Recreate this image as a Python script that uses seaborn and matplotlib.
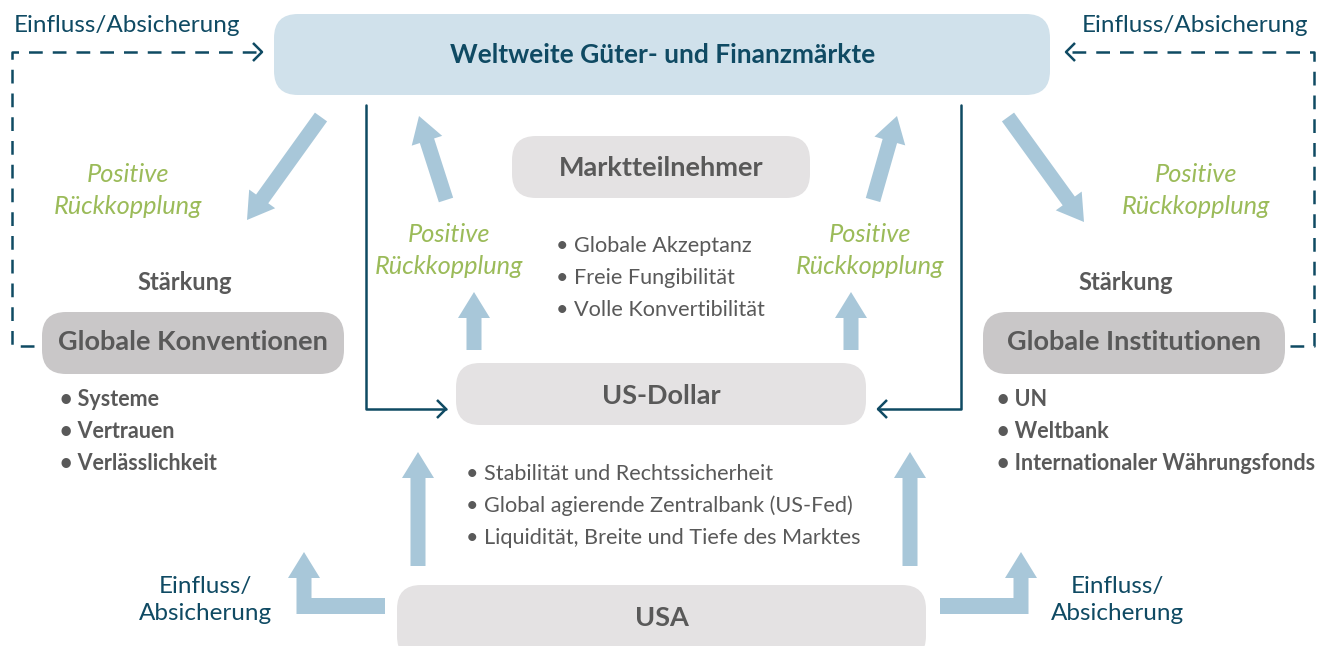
import matplotlib.pyplot as plt
import seaborn as sns
from matplotlib.patches import FancyBboxPatch, FancyArrow, Rectangle

# Texte des Diagramms
title_box = "Weltweite Güter- und Finanzmärkte"
center_boxes = ["Marktteilnehmer", "US-Dollar", "USA"]
side_boxes = ["Globale Konventionen", "Globale Institutionen"]
side_header = "Stärkung"
feedback_label = ["Positive", "Rückkopplung"]
influence_top = "Einfluss/Absicherung"
influence_bottom = ["Einfluss/", "Absicherung"]
left_bullets = ["Systeme", "Vertrauen", "Verlässlichkeit"]
right_bullets = ["UN", "Weltbank", "Internationaler Währungsfonds"]
dollar_bullets = ["Globale Akzeptanz", "Freie Fungibilität", "Volle Konvertibilität"]
usa_bullets = ["Stabilität und Rechtssicherheit",
               "Global agierende Zentralbank (US-Fed)",
               "Liquidität, Breite und Tiefe des Marktes"]

# Farben
BLUE_BOX = "#D0E1EB"
DARK = "#0F4A63"
ARROW = "#A8C7D9"
GREEN = "#9BBB59"
GREY_TXT = "#595959"
GREY_LIGHT = "#E4E2E3"
GREY_DARK = "#C9C7C8"

sns.set_theme(style="white")
plt.rcParams['font.family'] = ['Lato', 'DejaVu Sans']

fig = plt.figure(figsize=(13.39, 6.46), dpi=100)
ax = fig.add_axes([0, 0, 1, 1])
ax.set_xlim(0, 1339)
ax.set_ylim(646, 0)
ax.axis('off')


def box(x0, y0, x1, y1, color, r=24):
    ax.add_patch(FancyBboxPatch((x0, y0), x1 - x0, y1 - y0,
                                boxstyle=f"round,pad=0,rounding_size={r}",
                                fc=color, ec='none', zorder=1))


def thick_arrow(x0, y0, x1, y1):
    ax.add_patch(FancyArrow(x0, y0, x1 - x0, y1 - y0, width=15, head_width=32,
                            head_length=26, length_includes_head=True,
                            color=ARROW, lw=0, zorder=2))


def chevron(x, y, direction):
    # offene Pfeilspitze (direction: +1 nach rechts, -1 nach links)
    ax.plot([x - direction * 9, x, x - direction * 9], [y - 9, y, y + 9],
            color=DARK, lw=1.8, solid_capstyle='butt', zorder=3)


def two_lines(x, y0, lines, gap, **kw):
    for i, t in enumerate(lines):
        ax.text(x, y0 + i * gap, t, ha='center', va='center', **kw)


# Boxen
box(274, 14, 1050, 95, BLUE_BOX)
ax.text(663, 55, title_box, ha='center', va='center', fontsize=19,
        fontweight='bold', color=DARK)

center_pos = [(512, 136, 810, 198, 168), (456, 363, 866, 425, 396),
              (397, 585, 926, 660, 618)]
for label, (x0, y0, x1, y1, ty) in zip(center_boxes, center_pos):
    box(x0, y0, x1, y1, GREY_LIGHT)
    ax.text((x0 + x1) / 2, ty, label, ha='center', va='center', fontsize=19.5,
            fontweight='bold', color=GREY_TXT)

side_pos = [(42, 312, 344, 374), (983, 312, 1285, 374)]
for label, (x0, y0, x1, y1) in zip(side_boxes, side_pos):
    box(x0, y0, x1, y1, GREY_DARK)
    ax.text((x0 + x1) / 2, (y0 + y1) / 2 - 1, label, ha='center', va='center',
            fontsize=19.5, fontweight='bold', color=GREY_TXT)
    ax.text((x0 + x1) / 2 - 8, 283, side_header, ha='center', va='center',
            fontsize=17, fontweight='bold', color=GREY_TXT)

# Aufzählungen
for items, x, y0, bold in [(left_bullets, 60, 400, True),
                           (right_bullets, 997, 400, True),
                           (dollar_bullets, 556, 246, False),
                           (usa_bullets, 466, 474, False)]:
    for i, t in enumerate(items):
        ax.text(x, y0 + i * 32, "• " + t, ha='left', va='center',
                fontsize=15.5 if bold else 15.6,
                fontweight='bold' if bold else 'normal', color=GREY_TXT)

# Positive Rückkopplung
for x, y in [(128, 175), (1196, 175), (449, 234), (870, 234)]:
    two_lines(x, y, feedback_label, 32, fontsize=18.3, style='italic', color=GREEN)

# Einfluss/Absicherung
ax.text(127, 25, influence_top, ha='center', va='center', fontsize=17.5, color=DARK)
ax.text(1195, 25, influence_top, ha='center', va='center', fontsize=17.5, color=DARK)
two_lines(205, 586, influence_bottom, 28, fontsize=17.5, color=DARK)
two_lines(1117, 586, influence_bottom, 28, fontsize=17.5, color=DARK)

# gestrichelte Rückführungen
dash = dict(color=DARK, lw=1.8, dashes=(5.5, 4))
ax.plot([34, 12, 12, 256], [346, 346, 52, 52], **dash)
chevron(262, 52, +1)
ax.plot([1290, 1314, 1314, 1072], [346, 346, 52, 52], **dash)
chevron(1066, 52, -1)

# durchgezogene Linien zum US-Dollar
ax.plot([366, 366, 446], [105, 409, 409], color=DARK, lw=1.8)
chevron(446, 409, +1)
ax.plot([961, 961, 878], [105, 409, 409], color=DARK, lw=1.8)
chevron(878, 409, -1)

# dicke Pfeile
thick_arrow(321, 117, 247, 220)
thick_arrow(1008, 117, 1084, 222)
thick_arrow(446, 200, 419, 116)
thick_arrow(873, 200, 897, 116)
thick_arrow(474, 350, 474, 292)
thick_arrow(851, 350, 851, 292)
thick_arrow(418, 566, 418, 452)
thick_arrow(910, 566, 910, 452)
# L-förmige Pfeile unten
ax.add_patch(Rectangle((297, 598), 88, 16, fc=ARROW, ec='none', zorder=2))
thick_arrow(304, 614, 304, 552)
ax.add_patch(Rectangle((940, 598), 88, 16, fc=ARROW, ec='none', zorder=2))
thick_arrow(1021, 614, 1021, 552)

fig.savefig("out.png", dpi=100)
